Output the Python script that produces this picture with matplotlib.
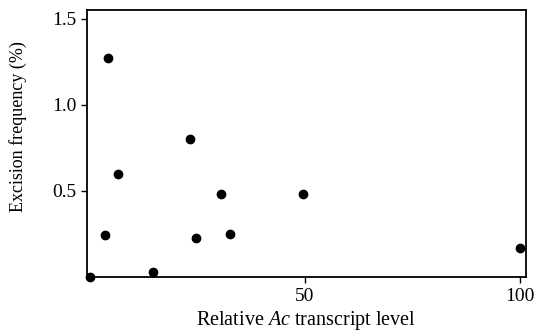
import matplotlib
matplotlib.use("Agg")
import matplotlib.pyplot as plt

plt.rcParams["font.family"] = ["Liberation Serif", "DejaVu Serif"]
plt.rcParams["mathtext.fontset"] = "custom"
plt.rcParams["mathtext.it"] = "Liberation Serif:italic"
plt.rcParams["mathtext.rm"] = "Liberation Serif"

# relative Ac transcript level vs excision frequency (%)
transcript = [0, 4.2, 6.5, 3.5, 14.7, 23.3, 24.7, 30.5, 32.6, 49.5, 100]
excision = [0.0, 1.27, 0.60, 0.245, 0.03, 0.80, 0.225, 0.48, 0.25, 0.48, 0.17]

x_ticks = [50, 100]
y_ticks = [0.5, 1.0, 1.5]

fig = plt.figure(figsize=(5.36, 3.31), dpi=100)
ax = fig.add_axes([0.162, 0.163, 0.819, 0.807])

ax.plot(transcript, excision, "o", color="black", markersize=6, clip_on=False)

ax.set_xlim(-0.7, 101.4)
ax.set_ylim(0, 1.552)
ax.set_xticks(x_ticks)
ax.set_yticks(y_ticks)
ax.set_yticklabels(["0.5", "1.0", "1.5"])
ax.tick_params(direction="out", length=4, width=1, labelsize=14, colors="black")
ax.tick_params(axis="x", pad=4)

for s in ax.spines.values():
    s.set_linewidth(1.3)

ax.set_xlabel(r"Relative $\mathit{Ac}$ transcript level", fontsize=14.5)
ax.xaxis.set_label_coords(0.5, -0.12)
ax.set_ylabel("Excision frequency (%)", fontsize=13)
ax.yaxis.set_label_coords(-0.137, 0.565)

fig.savefig("out.png", dpi=100)
